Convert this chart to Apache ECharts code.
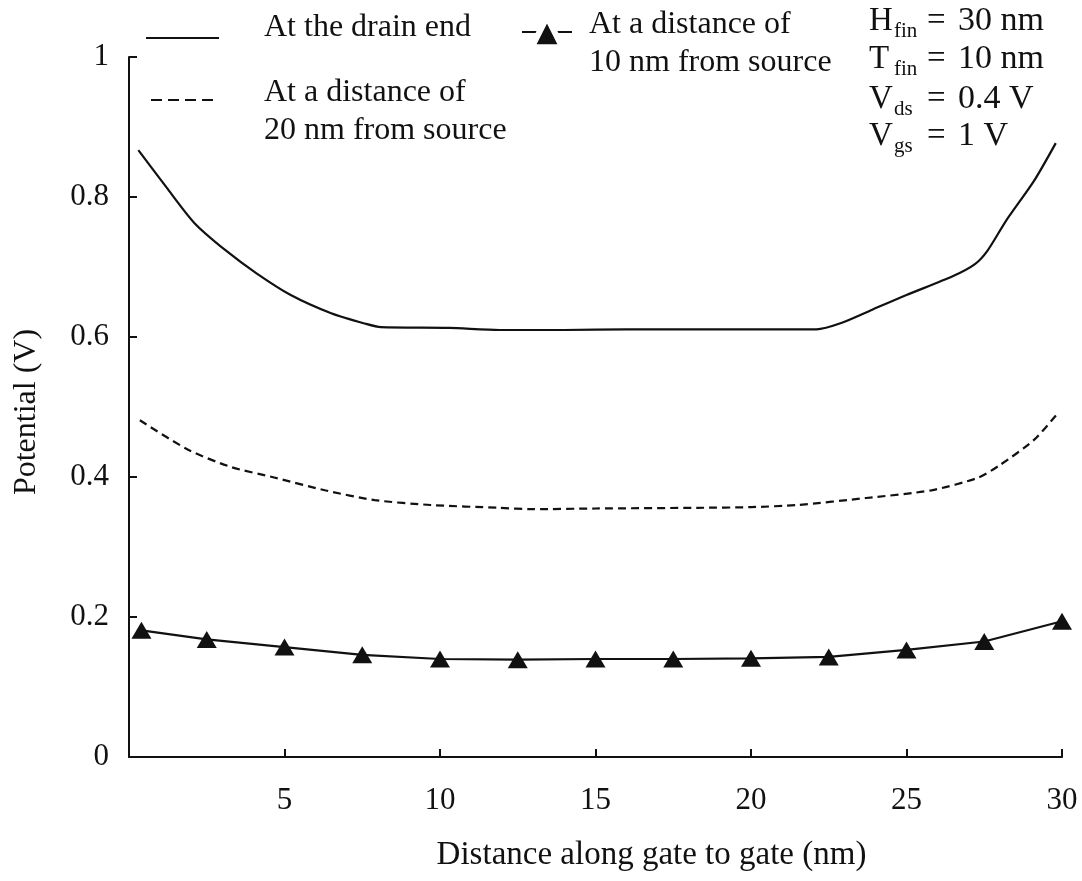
<!DOCTYPE html>
<html>
<head>
<meta charset="utf-8">
<script src="https://cdn.jsdelivr.net/npm/echarts@6/dist/echarts.min.js"></script>
<style>
html,body{margin:0;padding:0;background:#fff;}
#chart{width:1082px;height:881px;}
</style>
</head>
<body>
<div id="chart"></div>
<script>
// ---- data ----
var seriesNames = ["At the drain end", "At a distance of\n20 nm from source", "At a distance of\n10 nm from source"];
var drainX = [0.3, 1.2, 2.1, 3.1, 4.1, 5.2, 6.5, 7.6, 8.1, 10.3, 11.9, 14, 16, 18.4, 20, 22.1, 22.9, 23.9, 25.0, 26.5, 27.2, 27.6, 28.2, 29.1, 29.8];
var drainY = [0.867, 0.814, 0.763, 0.724, 0.691, 0.660, 0.634, 0.619, 0.614, 0.613, 0.610, 0.610, 0.611, 0.611, 0.611, 0.611, 0.620, 0.639, 0.660, 0.687, 0.704, 0.723, 0.766, 0.823, 0.877];
var src20X = [0.35, 1.9, 3.3, 4.7, 6.3, 7.9, 9.7, 11.9, 13, 15, 18.3, 20, 21.5, 23.7, 25.8, 27.3, 28.0, 29.1, 29.9];
var src20Y = [0.481, 0.439, 0.414, 0.399, 0.381, 0.367, 0.360, 0.356, 0.354, 0.355, 0.356, 0.357, 0.360, 0.370, 0.381, 0.399, 0.417, 0.453, 0.493];
var src10X = [0.4, 2.5, 5, 7.5, 10, 12.5, 15, 17.5, 20, 22.5, 25, 27.5, 30];
var src10Y = [0.181, 0.168, 0.157, 0.146, 0.140, 0.139, 0.140, 0.140, 0.141, 0.143, 0.153, 0.165, 0.194];
var paramMain = ["H", "T", "V", "V"];
var paramSub = ["fin", "fin", "ds", "gs"];
var paramValue = ["30 nm", "10 nm", "0.4 V", "1 V"];
var xAxisName = "Distance along gate to gate (nm)";
var yAxisName = "Potential (V)";

function pairs(xs, ys) { return xs.map(function (x, i) { return [x, ys[i]]; }); }

var FONT = "Liberation Serif";
var chart = echarts.init(document.getElementById('chart'), null, {renderer: 'canvas'});

var rowY = [22, 60, 100, 137];
var graphics = [];
paramMain.forEach(function (m, i) {
  graphics.push({type: 'text', left: 869, top: rowY[i] - 17, style: {text: m, font: '33px "' + FONT + '"', fill: '#111'}});
  graphics.push({type: 'text', left: 894, top: rowY[i] - 1, style: {text: paramSub[i], font: '21px "' + FONT + '"', fill: '#111'}});
  graphics.push({type: 'text', left: 927, top: rowY[i] - 17, style: {text: "=", font: '33px "' + FONT + '"', fill: '#111'}});
  graphics.push({type: 'text', left: 958, top: rowY[i] - 18, style: {text: paramValue[i], font: '34px "' + FONT + '"', fill: '#111'}});
});

function legendTextStyle(padLeft) {
  return {fontFamily: FONT, fontSize: 32, color: '#111', lineHeight: 38, padding: [0, 0, 0, padLeft],
          rich: {g: {fontSize: 2, lineHeight: 20}, g2: {fontSize: 2, lineHeight: 24}, g3: {fontSize: 2, lineHeight: 24}}};
}
var hiddenSymbol = {color: 'rgba(0,0,0,0)', borderWidth: 0};

var option = {
  backgroundColor: '#fff',
  animation: false,
  textStyle: {fontFamily: FONT},
  grid: {left: 129, right: 20, top: 57, bottom: 124, containLabel: false},
  legend: [
    {data: [seriesNames[0]], left: 145, top: 9, padding: 0, itemWidth: 73, itemHeight: 18,
     itemStyle: hiddenSymbol, formatter: function (n) { return n + '\n{g| }'; },
     textStyle: legendTextStyle(40), selectedMode: false},
    {data: [seriesNames[1]], left: 150, top: 50, padding: 0, itemWidth: 68, itemHeight: 18,
     itemStyle: hiddenSymbol, lineStyle: {type: [11, 6]},
     formatter: function (n) { return '{g2| }\n' + n; },
     textStyle: legendTextStyle(40), selectedMode: false},
    {data: [seriesNames[2]], left: 521, top: -18, padding: 0, itemWidth: 50, itemHeight: 38,
     itemStyle: {borderColor: '#fff', borderWidth: 6},
     formatter: function (n) { return '{g3| }\n' + n; },
     textStyle: legendTextStyle(12), selectedMode: false}
  ],
  xAxis: {
    type: 'value', min: 0, max: 30, interval: 5,
    name: xAxisName, nameLocation: 'middle', nameGap: 82,
    nameTextStyle: {fontFamily: FONT, fontSize: 33, color: '#111', padding: [0, 0, 0, 112]},
    axisLine: {onZero: false, lineStyle: {color: '#111', width: 2}},
    axisTick: {inside: true, length: 8, lineStyle: {color: '#111', width: 2}},
    axisLabel: {showMinLabel: false, margin: 28, fontFamily: FONT, fontSize: 31, color: '#111'},
    splitLine: {show: false}
  },
  yAxis: {
    type: 'value', min: 0, max: 1, interval: 0.2,
    name: yAxisName, nameLocation: 'middle', nameGap: 86, nameRotate: 90,
    nameTextStyle: {fontFamily: FONT, fontSize: 32, color: '#111', padding: [0, 10, 0, 0]},
    axisLine: {show: true, lineStyle: {color: '#111', width: 2}},
    axisTick: {show: true, inside: true, length: 8, lineStyle: {color: '#111', width: 2}},
    axisLabel: {margin: 20, fontFamily: FONT, fontSize: 31, color: '#111'},
    splitLine: {show: false}
  },
  series: [
    {name: seriesNames[0], type: 'line', data: pairs(drainX, drainY), symbol: 'none', smooth: 0.25,
     lineStyle: {color: '#111', width: 2.2}, itemStyle: {color: '#111'}},
    {name: seriesNames[1], type: 'line', data: pairs(src20X, src20Y), symbol: 'none', smooth: 0.25,
     lineStyle: {color: '#111', width: 2.2, type: [8, 5]}, itemStyle: {color: '#111'}},
    {name: seriesNames[2], type: 'line', data: pairs(src10X, src10Y), symbol: 'triangle', symbolSize: [20, 17],
     lineStyle: {color: '#111', width: 2.2}, itemStyle: {color: '#111'}}
  ],
  graphic: graphics
};
chart.setOption(option);
</script>
</body>
</html>
